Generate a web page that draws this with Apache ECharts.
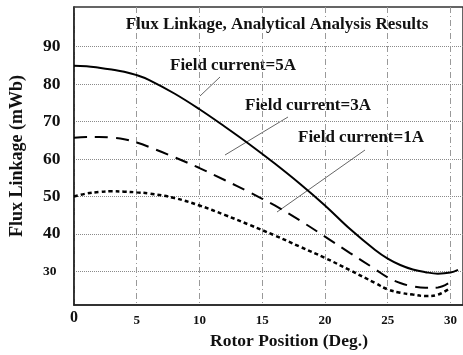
<!DOCTYPE html>
<html>
<head>
<meta charset="utf-8">
<script src="https://cdn.jsdelivr.net/npm/echarts@6/dist/echarts.min.js"></script>
<style>
html,body{margin:0;padding:0;background:#fff;}
#chart{width:463px;height:355px;}
</style>
</head>
<body>
<div id="chart"></div>
<script>
// Rotor position (deg.)
const rotorPos = [0, 1, 2, 3, 4, 5, 6, 8, 10, 12, 14, 16, 18, 20, 22, 24, 25, 26, 27, 28, 29, 30];
const rotorPos5A = [0, 1, 2, 3, 4, 5, 6, 8, 10, 12, 14, 16, 18, 20, 22, 24, 25, 26, 27, 28, 29, 30, 30.6];
// Flux linkage (mWb)
const flux5A = [84.9, 84.8, 84.4, 83.9, 83.3, 82.4, 81.1, 77.5, 73.3, 68.7, 63.9, 58.8, 53.4, 47.6, 41.3, 35.7, 33.4, 31.7, 30.5, 29.8, 29.4, 29.7, 30.4];
const flux3A = [65.7, 65.9, 65.9, 65.7, 65.3, 64.4, 63.2, 60.5, 57.6, 54.4, 51.1, 47.6, 43.6, 39.3, 34.9, 30.6, 28.4, 26.9, 26.0, 25.6, 25.7, 27.2];
const flux1A = [50.0, 50.8, 51.2, 51.4, 51.3, 51.1, 50.8, 49.6, 47.6, 45.1, 42.4, 39.6, 36.6, 33.6, 30.3, 26.9, 25.2, 24.3, 23.8, 23.4, 23.8, 25.6];
const seriesNames = ['Field current=5A', 'Field current=3A', 'Field current=1A'];
const chartTitle = 'Flux Linkage, Analytical Analysis Results';
const xAxisName = 'Rotor Position (Deg.)';
const yAxisName = 'Flux Linkage (mWb)';

const FONT = '"Liberation Serif", "Times New Roman", serif';
const pairs = (xs, ys) => ys.map((y, i) => [xs[i], y]);
const G = '#8a8a8a', T = 'rgba(0,0,0,0)';

const chart = echarts.init(document.getElementById('chart'), null, {renderer: 'canvas'});
chart.setOption({
  animation: false,
  backgroundColor: '#fff',
  title: {
    text: chartTitle,
    left: 272, top: 11, textAlign: 'center',
    textStyle: {fontFamily: FONT, fontWeight: 'bold', fontSize: 17, color: '#111'}
  },
  grid: {
    left: 74, top: 7, width: 394, height: 300,
    show: true, borderColor: '#333', borderWidth: 1.5, backgroundColor: 'transparent'
  },
  xAxis: {
    type: 'value', min: 0, max: 31, interval: 5,
    name: xAxisName, nameLocation: 'middle', nameGap: 26,
    nameTextStyle: {fontFamily: FONT, fontWeight: 'bold', fontSize: 17.5, color: '#111', padding: [0, 0, 0, 41]},
    axisLine: {lineStyle: {color: '#222', width: 1.5}},
    axisTick: {show: false},
    axisLabel: {
      showMaxLabel: false, margin: 5,
      formatter: v => v === 0 ? '{b|0}' : '{s|' + v + '}',
      rich: {
        b: {fontFamily: FONT, fontWeight: 'bold', fontSize: 16, color: '#111'},
        s: {fontFamily: FONT, fontWeight: 'bold', fontSize: 13, color: '#111', padding: [4, 0, 0, 0]}
      }
    },
    splitLine: {show: true, lineStyle: {color: '#999', width: 1, type: [6, 3, 1, 3]}}
  },
  yAxis: {
    type: 'value', min: 21, max: 100.6, splitNumber: 8,
    name: yAxisName, nameLocation: 'middle', nameGap: 48, nameRotate: 90,
    nameTextStyle: {fontFamily: FONT, fontWeight: 'bold', fontSize: 18, color: '#111'},
    axisLine: {show: true, lineStyle: {color: '#222', width: 1.5}},
    axisTick: {show: false},
    axisLabel: {
      showMinLabel: false, showMaxLabel: false, margin: 31, align: 'left',
      formatter: v => v === 30 ? '{s|30}' : (v === 100 ? '' : '{b|' + v + '}'),
      rich: {
        b: {fontFamily: FONT, fontWeight: 'bold', fontSize: 17.5, color: '#111'},
        s: {fontFamily: FONT, fontWeight: 'bold', fontSize: 13.5, color: '#111'}
      }
    },
    splitLine: {show: true, lineStyle: {color: [T, G, G, G, G, G, G, G, T, T], width: 1, type: [1, 1]}}
  },
  series: [
    {name: seriesNames[0], type: 'line', data: pairs(rotorPos5A, flux5A), showSymbol: false, smooth: 0.4,
     lineStyle: {color: '#000', width: 2, type: 'solid'}},
    {name: seriesNames[1], type: 'line', data: pairs(rotorPos, flux3A), showSymbol: false, smooth: 0.4,
     lineStyle: {color: '#000', width: 2, type: [13, 8]}},
    {name: seriesNames[2], type: 'line', data: pairs(rotorPos, flux1A), showSymbol: false, smooth: 0.4,
     lineStyle: {color: '#000', width: 2.5, type: [4, 3]}}
  ],
  graphic: [
    {type: 'text', left: 170, top: 57, style: {text: seriesNames[0], font: 'bold 17px ' + FONT, fill: '#111'}},
    {type: 'text', left: 245, top: 97, style: {text: seriesNames[1], font: 'bold 17px ' + FONT, fill: '#111'}},
    {type: 'text', left: 298, top: 129, style: {text: seriesNames[2], font: 'bold 17px ' + FONT, fill: '#111'}},
    {type: 'line', shape: {x1: 220, y1: 77, x2: 200, y2: 96}, style: {stroke: '#666', lineWidth: 1}},
    {type: 'line', shape: {x1: 288, y1: 117, x2: 225, y2: 155}, style: {stroke: '#666', lineWidth: 1}},
    {type: 'line', shape: {x1: 365, y1: 150, x2: 277, y2: 212}, style: {stroke: '#666', lineWidth: 1}}
  ]
});
</script>
</body>
</html>
